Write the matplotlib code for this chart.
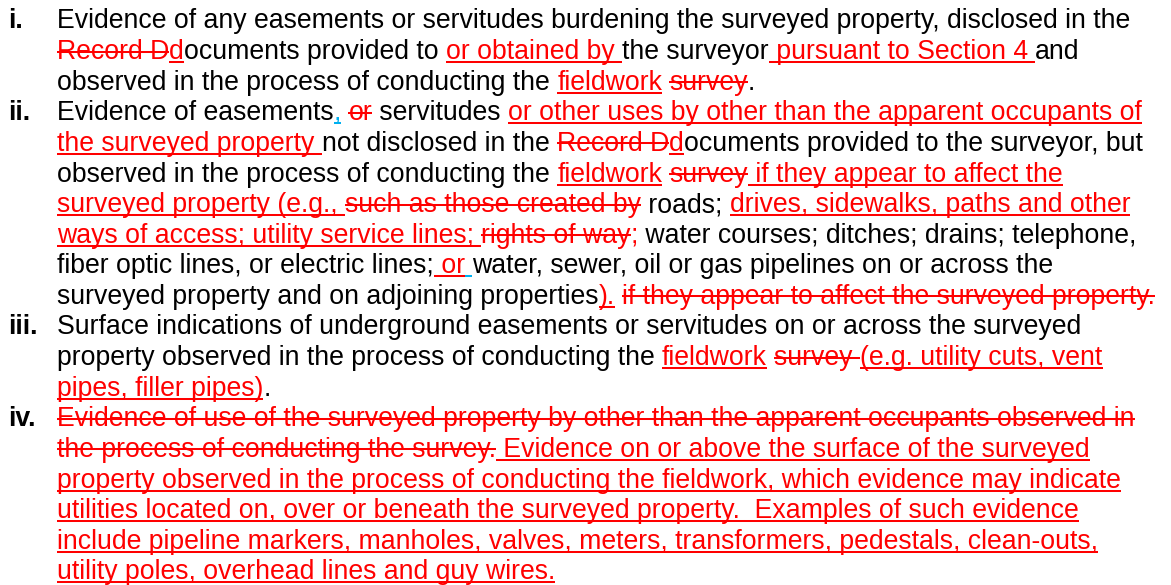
import matplotlib
matplotlib.use("Agg")
import matplotlib.pyplot as plt
from matplotlib.font_manager import FontProperties

plt.rcParams['font.family'] = ['Liberation Sans', 'DejaVu Sans']

# стили: n - обычный текст, u - вставка (красный, подчёркнут), s - удалено (красный, зачёркнут)
# b - синяя вставка, r - красный без линии
item_labels = ["i.", "ii.", "iii.", "iv."]

item1 = [
    [("Evidence of any easements or servitudes burdening the surveyed property, disclosed in the", "n")],
    [("Record D", "s"), ("d", "u"), ("ocuments provided to ", "n"), ("or obtained by ", "u"),
     ("the surveyor", "n"), (" pursuant to Section 4 ", "u"), ("and", "n")],
    [("observed in the process of conducting the ", "n"), ("fieldwork", "u"), (" ", "n"),
     ("survey", "s"), (".", "n")],
]

item2 = [
    [("Evidence of easements", "n"), (",", "b"), (" ", "n"), ("or", "s"), (" servitudes ", "n"),
     ("or other uses by other than the apparent occupants of", "u")],
    [("the surveyed property ", "u"), ("not disclosed in the ", "n"), ("Record D", "s"), ("d", "u"),
     ("ocuments provided to the surveyor, but", "n")],
    [("observed in the process of conducting the ", "n"), ("fieldwork", "u"), (" ", "n"),
     ("survey", "s"), (" if they appear to affect the", "u")],
    [("surveyed property (e.g., ", "u"), ("such as those created by", "s"), (" roads; ", "n"),
     ("drives, sidewalks, paths and other", "u")],
    [("ways of access; utility service lines; ", "u"), ("rights of way", "s"), (";", "r"),
     (" water courses; ditches; drains; telephone,", "n")],
    [("fiber optic lines, or electric lines;", "n"), (" or", "u"), (" ", "b"),
     ("water, sewer, oil or gas pipelines on or across the", "n")],
    [("surveyed property and on adjoining properties", "n"), (").", "u"), (" ", "n"),
     ("if they appear to affect the surveyed property.", "s")],
]

item3 = [
    [("Surface indications of underground easements or servitudes on or across the surveyed", "n")],
    [("property observed in the process of conducting the ", "n"), ("fieldwork", "u"), (" ", "n"),
     ("survey ", "s"), ("(e.g. utility cuts, vent", "u")],
    [("pipes, filler pipes)", "u"), (".", "n")],
]

item4 = [
    [("Evidence of use of the surveyed property by other than the apparent occupants observed in", "s")],
    [("the process of conducting the survey.", "s"), (" Evidence on or above the surface of the surveyed", "u")],
    [("property observed in the process of conducting the fieldwork, which evidence may indicate", "u")],
    [("utilities located on, over or beneath the surveyed property.  Examples of such evidence", "u")],
    [("include pipeline markers, manholes, valves, meters, transformers, pedestals, clean-outs,", "u")],
    [("utility poles, overhead lines and guy wires.", "u")],
]

items = [item1, item2, item3, item4]

colors = {"n": "black", "u": "#FF0000", "s": "#FF0000", "b": "#00B0F0", "r": "#FF0000"}
RED = "#FF0000"

fig = plt.figure(figsize=(11.71, 5.85), dpi=100)
fig.set(facecolor='white')
ax = fig.add_axes([0, 0, 1, 1])
ax.set_xlim(0, 1171)
ax.set_ylim(585, 0)
ax.axis('off')
renderer = fig.canvas.get_renderer()


def adv(s, fp):
    # ширина с учётом пробелов по краям
    w1 = renderer.get_text_width_height_descent("|" + s + "|", fp, ismath=False)[0]
    w2 = renderer.get_text_width_height_descent("||", fp, ismath=False)[0]
    return w1 - w2


# подбираем размер шрифта по ширине первой строки
fp10 = FontProperties(family=['Liberation Sans'], size=10)
w10 = renderer.get_text_width_height_descent(item1[0][0][0], fp10, ismath=False)[0]
fsize = 10 * 1078 / w10
fp = FontProperties(family=['Liberation Sans'], size=fsize)

x0 = 57
label_x = 8
base0 = 28.5
step = 30.6
lw = 1.45

row = 0
for label, lines in zip(item_labels, items):
    ax.text(label_x, base0 + row * step, label, fontsize=fsize, fontweight='bold',
            color='black', va='baseline', ha='left')
    for segs in lines:
        y = base0 + row * step
        prefix = ""
        for text, st in segs:
            xs = x0 + adv(prefix, fp)
            xe = x0 + adv(prefix + text, fp)
            ax.text(xs, y, text, fontsize=fsize, color=colors[st], va='baseline', ha='left')
            if st in ("u", "b"):
                ax.plot([xs, xe], [y + 3, y + 3], color=colors[st], lw=lw, solid_capstyle='butt')
            elif st == "s":
                ax.plot([xs, xe], [y - 7.5, y - 7.5], color=RED, lw=lw, solid_capstyle='butt')
            prefix += text
        row += 1

fig.savefig("out.png", dpi=100, facecolor='white')
